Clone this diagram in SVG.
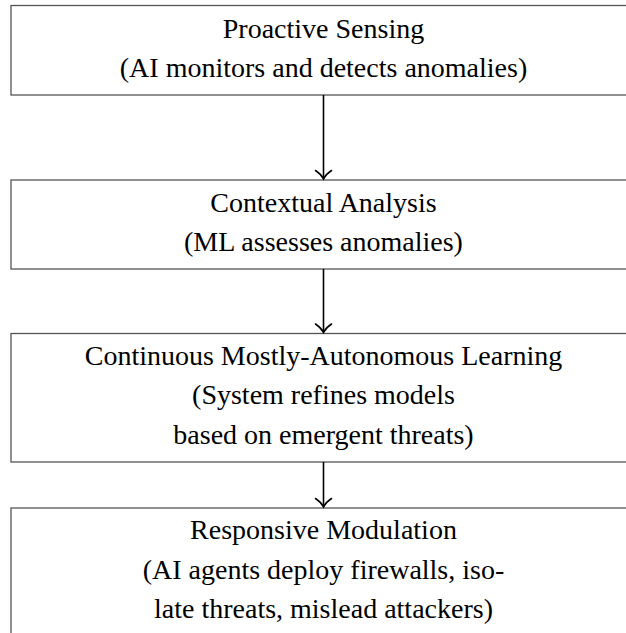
<svg xmlns="http://www.w3.org/2000/svg" width="626" height="633" viewBox="0 0 626 633">
<style>
.box{fill:#fff;stroke:#555;stroke-width:1.3}
.t{font-family:'Liberation Serif','Times New Roman',Times,serif;font-size:28px;fill:#000;text-anchor:middle}
.edge{stroke:#000;stroke-width:1.6;fill:none}
.head{stroke:#000;stroke-width:1.6;fill:none;stroke-linecap:round}
</style>
<rect width="626" height="633" fill="#fff"/>
<g id="node-sensing">
<rect class="box" x="11" y="5.5" width="625" height="89.5"/>
<text class="t" x="323.5" y="37.5">Proactive Sensing</text>
<text class="t" x="323.5" y="76.5">(AI monitors and detects anomalies)</text>
</g>
<g id="node-analysis">
<rect class="box" x="11" y="180" width="625" height="89"/>
<text class="t" x="323.5" y="211.5">Contextual Analysis</text>
<text class="t" x="323.5" y="250.5">(ML assesses anomalies)</text>
</g>
<g id="node-learning">
<rect class="box" x="11" y="333.5" width="625" height="128.5"/>
<text class="t" x="323.5" y="364.5">Continuous Mostly-Autonomous Learning</text>
<text class="t" x="323.5" y="404">(System refines models</text>
<text class="t" x="323.5" y="443.5">based on emergent threats)</text>
</g>
<g id="node-response">
<rect class="box" x="11" y="508" width="625" height="128.5"/>
<text class="t" x="323.5" y="539">Responsive Modulation</text>
<text class="t" x="323.5" y="578.5">(AI agents deploy firewalls, iso-</text>
<text class="t" x="323.5" y="618">late threats, mislead attackers)</text>
</g>
<g id="connectors">
<line class="edge" x1="323.5" y1="95" x2="323.5" y2="179"/>
<path class="head" d="M315.5,170.5 Q321,174 323.5,179 Q326,174 331.5,170.5"/>
<line class="edge" x1="323.5" y1="269" x2="323.5" y2="332.5"/>
<path class="head" d="M315.5,324 Q321,327.5 323.5,332.5 Q326,327.5 331.5,324"/>
<line class="edge" x1="323.5" y1="462" x2="323.5" y2="507"/>
<path class="head" d="M315.5,498.5 Q321,502 323.5,507 Q326,502 331.5,498.5"/>
</g>
</svg>
